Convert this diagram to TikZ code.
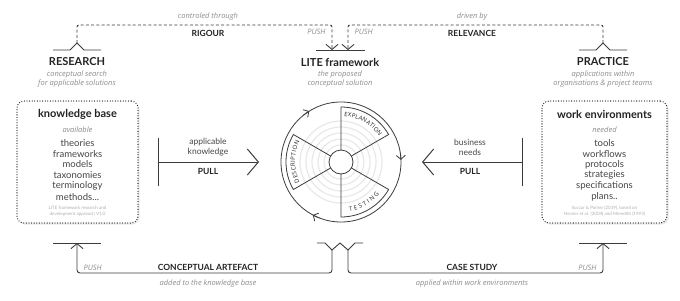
\documentclass[tikz,border=0pt]{standalone}
\usepackage{fontspec}
\setmainfont{Lato}
\newfontfamily\notefam{Open Sans}
\usepackage{tikz}
\usetikzlibrary{arrows.meta, calc, shadows, decorations.text}
\definecolor{inkdark}{RGB}{35,35,35}
\definecolor{inkitem}{RGB}{70,70,70}
\definecolor{inkgray}{RGB}{140,140,140}
\definecolor{linedark}{RGB}{60,60,60}
\newcommand{\sectorfont}{\notefam\fontsize{6}{7}\selectfont}

\begin{document}
\begin{tikzpicture}[x=1pt, y=1pt, font=\fontsize{9}{10}\selectfont, color=inkdark,
  title/.style={font=\fontsize{11}{12}\selectfont\bfseries},
  note/.style={font=\notefam\itshape\fontsize{7.5}{9}\selectfont, text=inkgray, align=center},
  tag/.style={font=\fontsize{8.5}{10}\selectfont\bfseries},
  item/.style={font=\fontsize{9.5}{10}\selectfont, text=inkitem, align=center},
  credit/.style={font=\fontsize{4.5}{5.5}\selectfont, text=inkgray!70, align=center},
  conn/.style={draw=linedark, line width=0.9pt},
  push/.style={-{Straight Barb[length=5pt,width=12pt]}},
  pull/.style={{Bar[width=48pt]}-{Straight Barb[length=11pt,width=26pt]}, line width=1pt},
  basebox/.style={draw=inkdark, fill=white, line width=1.3pt, dash pattern=on 0pt off 2.6pt,
    line cap=round, rounded corners=7pt, minimum width=121pt, minimum height=122pt,
    drop shadow={opacity=0.18, shadow xshift=1.5pt, shadow yshift=-1.5pt}},
  arcword/.style={decorate, decoration={text along path, text align={fit to path},
    text color=inkdark, text={|\sectorfont|#1}}}]
  \useasboundingbox (0,0) rectangle (680,-300);

  \node[title] (research) at (77,-62) {RESEARCH};
  \node[note] (researchNote) at (77,-79.5) {conceptual search\\for applicable solutions};
  \node[title] (lite) at (340,-62) {LITE framework};
  \node[note] (liteNote) at (340,-79.5) {the proposed\\conceptual solution};
  \node[title] (practice) at (603,-62) {PRACTICE};
  \node[note] (practiceNote) at (603,-79.5) {applications within\\organisations \& project teams};

  \coordinate (resTop) at (77,-43);
  \coordinate (pracTop) at (603,-43);
  \coordinate (liteInL) at (332,-50);
  \coordinate (liteInR) at (348,-50);
  \coordinate (rigour) at (208,-25);
  \coordinate (relevance) at (472,-25);
  \draw[conn] (resTop) ++(-24,-7) -- ++(17,0) -- ++(7,7) -- ++(7,-7) -- ++(17,0);
  \draw[conn] (pracTop) ++(-24,-7) -- ++(17,0) -- ++(7,7) -- ++(7,-7) -- ++(17,0);
  \draw[conn] (316,-50) -- (365,-50);
  \draw[conn, dash pattern=on 3pt off 2.2pt, rounded corners=2pt, push] (resTop) |- (rigour) -| (liteInL);
  \draw[conn, dash pattern=on 3pt off 2.2pt, rounded corners=2pt, push] (pracTop) |- (relevance) -| (liteInR);
  \node[note] at (208,-17) {controled through};
  \node[tag] at (208,-33) {RIGOUR};
  \node[note] at (472,-17) {driven by};
  \node[tag] at (472,-33) {RELEVANCE};
  \node[note, anchor=east] at (329,-32) {PUSH};
  \node[note, anchor=west] at (351,-32) {PUSH};

  \node[basebox] (kbase) at (77.5,-162) {};
  \node[title] at (77.5,-114) {knowledge base};
  \node[note] at (77.5,-130) {available};
  \foreach \t [count=\i] in {theories, frameworks, models, taxonomies, terminology, methods{.}{.}{.}}{
    \node[item] at (77.5,-132-10.8*\i) {\t};
  }
  \node[credit] at (77.5,-211) {LITE framework research and\\development approach V1.0};

  \node[basebox, minimum width=125pt] (workenv) at (604.5,-162) {};
  \node[title] at (604.5,-114) {work environments};
  \node[note] at (604.5,-130) {needed};
  \foreach \t [count=\i] in {tools, workflows, protocols, strategies, specifications, plans{.}{.}}{
    \node[item] at (604.5,-132-10.8*\i) {\t};
  }
  \node[credit] at (604.5,-211) {Succar \& Poirier (2019), based on\\Hevner et al. (2004) and Meredith (1993)};

  \coordinate (kbPull) at (158,-162);
  \coordinate (liteLeft) at (259,-162);
  \coordinate (wePull) at (523,-162);
  \coordinate (liteRight) at (422,-162);
  \draw[conn, pull] (kbPull) -- (liteLeft);
  \draw[conn, pull] (wePull) -- (liteRight);
  \node[item, font=\fontsize{8.5}{10}\selectfont] at (208,-147) {applicable\\knowledge};
  \node[tag] at (208,-171) {PULL};
  \node[item, font=\fontsize{8.5}{10}\selectfont] at (470,-147) {business\\needs};
  \node[tag] at (470,-171) {PULL};

  \coordinate (c) at (341,-162);
  \foreach \r in {17,23,29,35,41}{
    \draw[gray!18, line width=1.2pt] (c) circle (\r);
  }
  \draw[conn, line width=0.8pt] (c) circle (60);
  \foreach \a in {122,2,242}{
    \draw[conn, line width=0.8pt, -{Straight Barb[length=4pt,width=9pt]}] ($(c)+(\a+7:60)$) arc (\a+7:\a:60);
  }
  \foreach \a in {30,150,270}{
    \draw[conn, line width=0.8pt] ($(c)+(\a:12)$) -- ($(c)+(\a:55)$) arc (\a:\a+60:55) -- ($(c)+(\a+60:12)$);
  }
  \draw[conn, line width=0.8pt, fill=white] (c) circle (12);
  \path[arcword=EXPLANATION] ($(c)+(86:46)$) arc (86:34:46);
  \path[arcword=DESCRIPTION] ($(c)+(206:46)$) arc (206:154:46);
  \path[arcword=TESTING] ($(c)+(-80:50)$) arc (-80:-40:50);

  \coordinate (kbIn) at (77,-243);
  \coordinate (weIn) at (603,-243);
  \coordinate (liteOutL) at (332,-250);
  \coordinate (liteOutR) at (348,-250);
  \coordinate (artefact) at (208,-273);
  \coordinate (casestudy) at (472,-273);
  \draw[conn] (kbIn) ++(-24,0) -- ++(48,0);
  \draw[conn] (weIn) ++(-24,0) -- ++(48,0);
  \draw[conn] (317,-243) -- (325,-243) -- (liteOutL) -- (340,-243) -- (liteOutR) -- (355,-243) -- (363,-243);
  \draw[conn, push, rounded corners=3pt] (liteOutL) |- (artefact) -| (kbIn);
  \draw[conn, push, rounded corners=3pt] (liteOutR) |- (casestudy) -| (weIn);
  \node[note, anchor=west] at (80,-268) {PUSH};
  \node[note, anchor=east] at (600,-268) {PUSH};
  \node[tag] at (208,-267) {CONCEPTUAL ARTEFACT};
  \node[note] at (208,-284) {added to the knowledge base};
  \node[tag] at (472,-267) {CASE STUDY};
  \node[note] at (472,-284) {applied within work environments};
\end{tikzpicture}
\end{document}
